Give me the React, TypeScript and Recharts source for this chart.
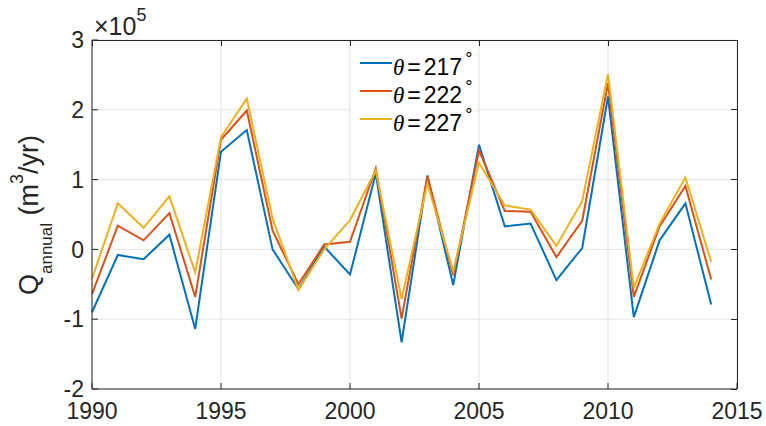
import React from 'react';
import { LineChart, Line, XAxis, YAxis, CartesianGrid, Legend } from 'recharts';

// annual volume flux per wave-approach angle, m^3/yr
const YEARS = [
  1990, 1991, 1992, 1993, 1994, 1995, 1996, 1997, 1998, 1999, 2000, 2001, 2002,
  2003, 2004, 2005, 2006, 2007, 2008, 2009, 2010, 2011, 2012, 2013, 2014,
];
const Q_217 = [
  -90000, -8000, -14000, 21000, -114000, 140000, 171000, 0, -57000, 4000, -36000, 109000, -133000,
  106000, -51000, 150000, 33000, 37000, -44000, 2000, 219000, -97000, 13000, 66000, -79000,
];
const Q_222 = [
  -64000, 34000, 13000, 52000, -68000, 157000, 199000, 27000, -50000, 7000, 11000, 116000, -99000,
  105000, -37000, 142000, 55000, 54000, -11000, 41000, 238000, -68000, 33000, 91000, -43000,
];
const Q_227 = [
  -42000, 66000, 31000, 76000, -33000, 161000, 216000, 44000, -58000, 0, 42000, 113000, -71000,
  94000, -31000, 124000, 63000, 57000, 5000, 69000, 251000, -55000, 37000, 103000, -18000,
];

const X_TICKS = [1990, 1995, 2000, 2005, 2010, 2015];
const Y_TICKS = [-200000, -100000, 0, 100000, 200000, 300000];
const X_DOMAIN = [1990, 2015];
const Y_DOMAIN = [-200000, 300000];

const SERIES = [
  { key: 't217', angle: '217', color: '#0072BD', values: Q_217 },
  { key: 't222', angle: '222', color: '#D95319', values: Q_222 },
  { key: 't227', angle: '227', color: '#EDB120', values: Q_227 },
];

const rows = YEARS.map((year, i) => {
  const row: Record<string, number> = { year };
  SERIES.forEach((s) => {
    row[s.key] = s.values[i];
  });
  return row;
});

const W = 766;
const H = 426;
const MARGIN = { top: 40, right: 29, bottom: 0, left: 0 };
const Y_AXIS_W = 92;
const X_AXIS_H = 37;
// plot box, as laid out by the chart from the margins and axis sizes above
const BOX = {
  left: MARGIN.left + Y_AXIS_W,
  right: W - MARGIN.right,
  top: MARGIN.top,
  bottom: H - MARGIN.bottom - X_AXIS_H,
};

const FONT = '"Liberation Sans", Arial, Helvetica, sans-serif';
const INK = '#262626';
const TICK = 6;

const tickStyle = { fontSize: 23, fill: INK, fontFamily: FONT };

const LegendBox = () => (
  <svg width={126} height={95} style={{ display: 'block', background: '#fff' }}>
    {SERIES.map((s, i) => {
      const base = 33 + i * 28;
      return (
        <g key={s.key}>
          <line x1={9} x2={41} y1={base - 12} y2={base - 12} stroke={s.color} strokeWidth={2} />
          <text x={42} y={base} fontSize={23} fill="#000" fontFamily={FONT}>
            <tspan fontFamily='"Liberation Serif", "DejaVu Serif", serif' fontStyle="italic">θ</tspan>
            <tspan dx={3}>=</tspan>
            <tspan dx={3}>{s.angle}</tspan>
            <tspan fontSize={18} dx={3} dy={-10}>°</tspan>
          </text>
        </g>
      );
    })}
  </svg>
);

// top/right frame edges with inward ticks, y title and the ×10^5 multiplier
const Overlay = () => {
  const xAt = (v: number) =>
    BOX.left + ((v - X_DOMAIN[0]) / (X_DOMAIN[1] - X_DOMAIN[0])) * (BOX.right - BOX.left);
  const yAt = (v: number) =>
    BOX.bottom - ((v - Y_DOMAIN[0]) / (Y_DOMAIN[1] - Y_DOMAIN[0])) * (BOX.bottom - BOX.top);
  return (
    <svg width={W} height={H} style={{ position: 'absolute', left: 0, top: 0, pointerEvents: 'none' }}>
      <g stroke={INK} strokeWidth={1} fill="none" shapeRendering="crispEdges">
        <path d={`M${BOX.left},${BOX.top}H${BOX.right}V${BOX.bottom}`} />
        {X_TICKS.map((t) => (
          <path key={`tx${t}`} d={`M${xAt(t)},${BOX.top}v${TICK}`} />
        ))}
        {Y_TICKS.map((t) => (
          <path key={`ty${t}`} d={`M${BOX.right},${yAt(t)}h${-TICK}`} />
        ))}
      </g>
      <g fill={INK} fontFamily={FONT}>
        <text transform="translate(38,215) rotate(-90)" textAnchor="middle" fontSize={27}>
          Q<tspan fontSize={17} dy={14}>annual</tspan>
          <tspan dy={-14}> (m</tspan>
          <tspan fontSize={18} dy={-15}>3</tspan>
          <tspan dy={15}>/yr)</tspan>
        </text>
        <text x={94} y={35} fontSize={25}>
          ×10<tspan fontSize={18} dy={-14}>5</tspan>
        </text>
      </g>
    </svg>
  );
};

export default function App() {
  return (
    <div style={{ position: 'absolute', left: 0, top: 0, width: W, height: H, background: '#fff' }}>
      <LineChart width={W} height={H} data={rows} margin={MARGIN}>
        <CartesianGrid stroke="#e3e3e3" strokeWidth={1} />
        <XAxis
          dataKey="year"
          type="number"
          domain={X_DOMAIN}
          ticks={X_TICKS}
          height={X_AXIS_H}
          tick={tickStyle}
          tickSize={-TICK}
          tickMargin={20}
          stroke={INK}
          interval={0}
        />
        <YAxis
          type="number"
          domain={Y_DOMAIN}
          ticks={Y_TICKS}
          width={Y_AXIS_W}
          tick={tickStyle}
          tickFormatter={(v: number) => String(v / 100000)}
          tickSize={-TICK}
          tickMargin={14}
          stroke={INK}
          interval={0}
        />
        {SERIES.map((s) => (
          <Line
            key={s.key}
            dataKey={s.key}
            type="linear"
            stroke={s.color}
            strokeWidth={2}
            dot={false}
            isAnimationActive={false}
          />
        ))}
        <Legend
          layout="vertical"
          align="center"
          verticalAlign="middle"
          wrapperStyle={{ left: 351, top: 42, width: 126, height: 95 }}
          content={() => <LegendBox />}
        />
      </LineChart>
      <Overlay />
    </div>
  );
}
